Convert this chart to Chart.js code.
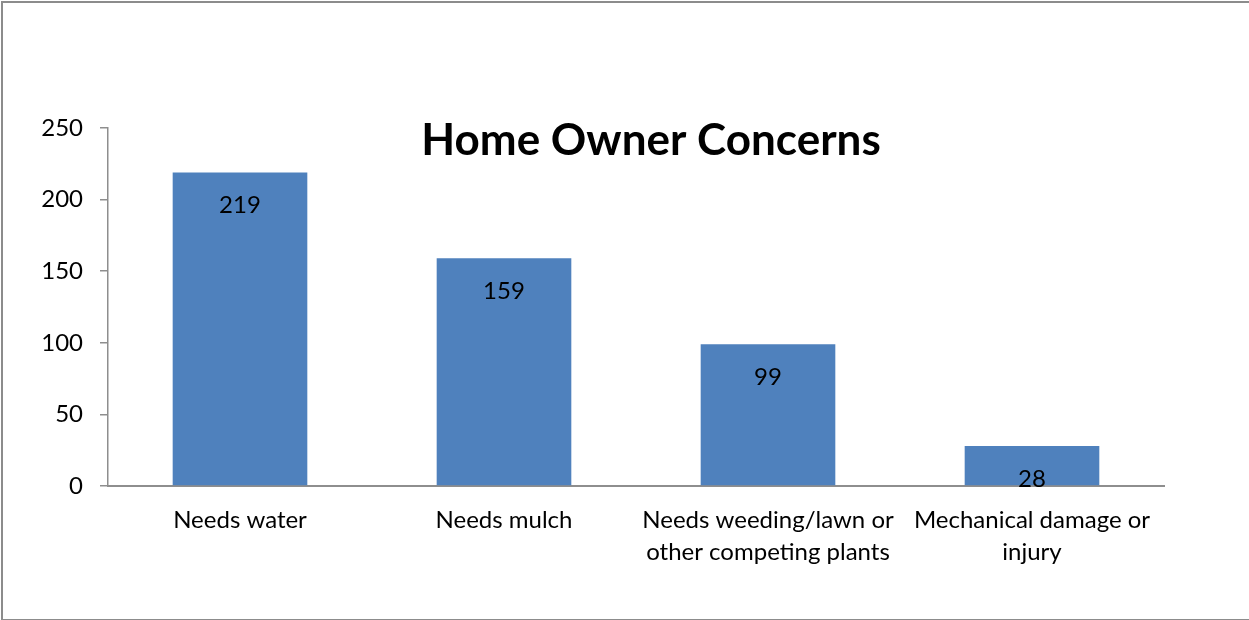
<!DOCTYPE html>
<html>
<head>
<meta charset="utf-8">
<script src="https://cdn.jsdelivr.net/npm/chart.js@4"></script>
<style>
  html, body { margin: 0; padding: 0; background: #fff; overflow: hidden; }
  #wrap { position: relative; width: 1249px; height: 620px; }
  #frame { position: absolute; left: 1px; top: 1px; width: 1260px; height: 616px;
           border-left: 2px solid #8c8c8c; border-top: 2px solid #8c8c8c; border-bottom: 2px solid #8c8c8c; }
  canvas { position: absolute; left: 0; top: 0; }
</style>
</head>
<body>
<div id="wrap">
  <div id="frame"></div>
  <canvas id="c" width="1249" height="620"></canvas>
</div>
<script>
const categories = [
  'Needs water',
  'Needs mulch',
  ['Needs weeding/lawn or', 'other competing plants'],
  ['Mechanical damage or', 'injury']
];
const counts = [219, 159, 99, 28];
const yTicks = [0, 50, 100, 150, 200, 250];
const chartTitle = 'Home Owner Concerns';

const FONT = 'Lato, "Open Sans", sans-serif';
const AXIS_GREY = '#8e8e8e';

// Values printed inside each bar, just below its top edge
const valueLabels = {
  id: 'valueLabels',
  afterDatasetsDraw(chart) {
    const ctx = chart.ctx;
    const meta = chart.getDatasetMeta(0);
    ctx.save();
    ctx.font = '24px ' + FONT;
    ctx.fillStyle = '#000';
    ctx.textAlign = 'center';
    ctx.textBaseline = 'middle';
    meta.data.forEach((bar, i) => {
      ctx.fillText(String(counts[i]), bar.x, bar.y + 33);
    });
    ctx.restore();
  }
};

// Title sits over the upper part of the plot area
const overlayTitle = {
  id: 'overlayTitle',
  afterDraw(chart) {
    const { ctx, chartArea } = chart;
    ctx.save();
    ctx.font = 'bold 44px ' + FONT;
    ctx.fillStyle = '#000';
    ctx.textAlign = 'center';
    ctx.textBaseline = 'middle';
    ctx.fillText(chartTitle, (chartArea.left + chartArea.right) / 2 + 15, chartArea.top + 13);
    ctx.restore();
  }
};

new Chart(document.getElementById('c'), {
  type: 'bar',
  data: {
    labels: categories,
    datasets: [{
      data: counts,
      backgroundColor: '#4f81bd',
      borderWidth: 0,
      barPercentage: 0.51,
      categoryPercentage: 1
    }]
  },
  options: {
    responsive: false,
    animation: false,
    layout: { padding: { left: 0, top: 128, right: 85, bottom: 0 } },
    plugins: { legend: { display: false }, tooltip: { enabled: false }, title: { display: false } },
    scales: {
      x: {
        grid: { display: true, drawOnChartArea: false, drawTicks: false },
        border: { display: true, color: AXIS_GREY, width: 2 },
        ticks: { color: '#000', font: { family: FONT, size: 24, lineHeight: 1.3 }, padding: 19, maxRotation: 0, autoSkip: false },
        afterFit(scale) { scale.height = 134; }
      },
      y: {
        min: 0,
        max: 250,
        afterBuildTicks(scale) { scale.ticks = yTicks.map(v => ({ value: v })); },
        grid: { display: true, drawOnChartArea: false, drawTicks: true, tickLength: 8, color: AXIS_GREY, lineWidth: 1.5 },
        border: { display: true, color: AXIS_GREY, width: 1.5 },
        ticks: { color: '#000', font: { family: FONT, size: 24 }, padding: 17 },
        afterFit(scale) { scale.width = 108; }
      }
    }
  },
  plugins: [valueLabels, overlayTitle]
});
</script>
</body>
</html>
